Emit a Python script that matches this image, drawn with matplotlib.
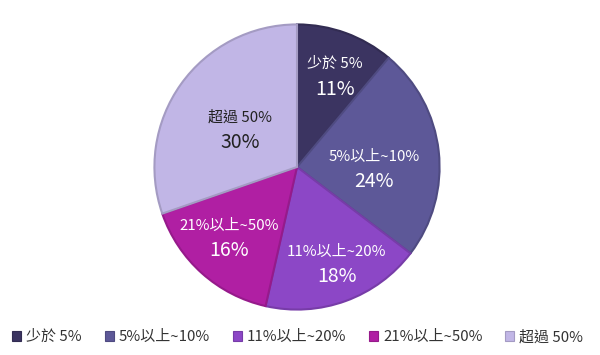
import matplotlib
matplotlib.use('Agg')
import matplotlib.pyplot as plt
import matplotlib.colors as mcolors
import numpy as np

plt.rcParams['font.family'] = ['Noto Sans CJK TC', 'DejaVu Sans']

# 數據
categories = ['少於 5%', '5%以上~10%', '11%以上~20%', '21%以上~50%', '超過 50%']
values = [11, 24, 18, 16, 30]
colors = ['#3b3461', '#5d5898', '#8c47c6', '#b01fa3', '#c1b6e6']
text_colors = ['white', 'white', 'white', 'white', '#222222']
# 標籤位置 (半徑比例, 角度微調)
label_dist = [0.69, 0.54, 0.735, 0.69, 0.475]
label_dang = [-2.6, -7.9, 2.2, -2.1, 2.2]

fig = plt.figure(figsize=(6, 3.55), dpi=100)
ax = fig.add_axes([297/600 - 144/600, 1 - (167 + 144)/355, 288/600, 288/355])

edge = [tuple(c * 0.85 for c in mcolors.to_rgb(col)) for col in colors]
wedges, _ = ax.pie(values, colors=colors, startangle=90, counterclock=False,
                   radius=1, wedgeprops=dict(linewidth=1.5))
for w, e in zip(wedges, edge):
    w.set_edgecolor(e)

# 標籤
for w, cat, v, tc, d, da in zip(wedges, categories, values, text_colors, label_dist, label_dang):
    ang = np.deg2rad((w.theta1 + w.theta2) / 2 + da)
    x, y = d * np.cos(ang), d * np.sin(ang)
    ax.text(x, y + 0.085, cat, ha='center', va='center', fontsize=10.8, color=tc)
    ax.text(x, y - 0.09, f'{v}%', ha='center', va='center', fontsize=14, color=tc)

ax.set_xlim(-1.01, 1.01)
ax.set_ylim(-1.01, 1.01)
ax.set_aspect('equal')
ax.axis('off')

# 圖例
handles = [plt.Rectangle((0, 0), 1, 1, facecolor=c, edgecolor=e, linewidth=0.8)
           for c, e in zip(colors, edge)]
fig.legend(handles, categories, loc='center left', bbox_to_anchor=(12/600, 1 - 337/355),
           ncol=5, frameon=False, fontsize=10.8, handlelength=0.6, handleheight=0.6,
           handletextpad=0.33, columnspacing=1.53, labelcolor='#333333',
           borderpad=0, borderaxespad=0)

fig.savefig('out.png', dpi=100, facecolor='white')
